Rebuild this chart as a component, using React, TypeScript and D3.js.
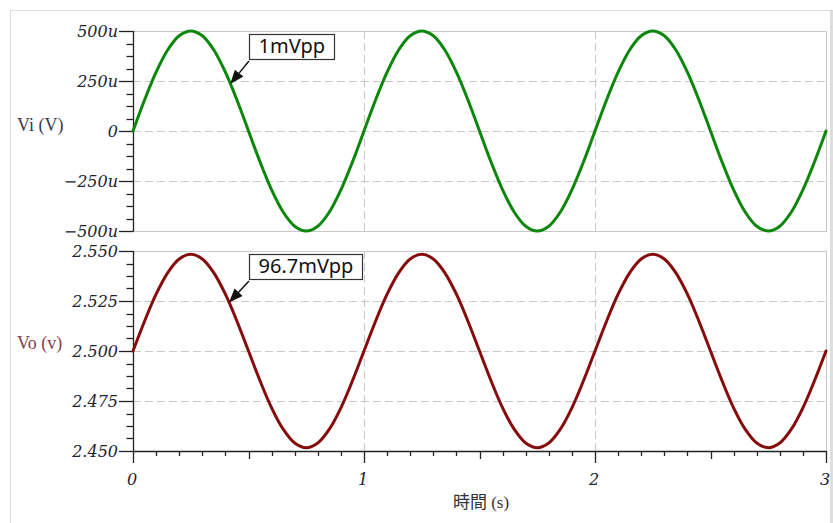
import React from "react";
import * as d3 from "d3";

// Sample times (s)
const TIME = [
  0, 0.05, 0.1, 0.15, 0.2, 0.25, 0.3, 0.35, 0.4, 0.45,
  0.5, 0.55, 0.6, 0.65, 0.7, 0.75, 0.8, 0.85, 0.9, 0.95,
  1.0, 1.05, 1.1, 1.15, 1.2, 1.25, 1.3, 1.35, 1.4, 1.45,
  1.5, 1.55, 1.6, 1.65, 1.7, 1.75, 1.8, 1.85, 1.9, 1.95,
  2.0, 2.05, 2.1, 2.15, 2.2, 2.25, 2.3, 2.35, 2.4, 2.45,
  2.5, 2.55, 2.6, 2.65, 2.7, 2.75, 2.8, 2.85, 2.9, 2.95,
  3.0,
];

// Input voltage Vi (µV)
const VI_UV = [
  0, 155, 294, 405, 476, 500, 476, 405, 294, 155,
  0, -155, -294, -405, -476, -500, -476, -405, -294, -155,
  0, 155, 294, 405, 476, 500, 476, 405, 294, 155,
  0, -155, -294, -405, -476, -500, -476, -405, -294, -155,
  0, 155, 294, 405, 476, 500, 476, 405, 294, 155,
  0, -155, -294, -405, -476, -500, -476, -405, -294, -155,
  0,
];

// Output voltage Vo (V)
const VO_V = [
  2.5, 2.5149, 2.5284, 2.5391, 2.546, 2.54835, 2.546, 2.5391, 2.5284, 2.5149,
  2.5, 2.4851, 2.4716, 2.4609, 2.454, 2.45165, 2.454, 2.4609, 2.4716, 2.4851,
  2.5, 2.5149, 2.5284, 2.5391, 2.546, 2.54835, 2.546, 2.5391, 2.5284, 2.5149,
  2.5, 2.4851, 2.4716, 2.4609, 2.454, 2.45165, 2.454, 2.4609, 2.4716, 2.4851,
  2.5, 2.5149, 2.5284, 2.5391, 2.546, 2.54835, 2.546, 2.5391, 2.5284, 2.5149,
  2.5, 2.4851, 2.4716, 2.4609, 2.454, 2.45165, 2.454, 2.4609, 2.4716, 2.4851,
  2.5,
];

// Axis ticks
const X_TICKS = [0, 1, 2, 3];
const X_TICK_LABELS = ["0", "1", "2", "3"];
const VI_TICKS = [500, 250, 0, -250, -500];
const VI_TICK_LABELS = ["500u", "250u", "0", "\u2212250u", "\u2212500u"];
const VO_TICKS = [2.55, 2.525, 2.5, 2.475, 2.45];
const VO_TICK_LABELS = ["2.550", "2.525", "2.500", "2.475", "2.450"];

// Peak-to-peak callouts: time and value the arrow points at
const VI_NOTE = { text: "1mVpp", t: 0.4167, v: 250 };
const VO_NOTE = { text: "96.7mVpp", t: 0.4136, v: 2.525 };

const W = 833;
const H = 523;
const X0 = 133;
const X1 = 826;
const TOP = { y0: 31, y1: 231 };
const BOT = { y0: 251, y1: 451 };

const GREEN = "#0c870c";
const RED = "#860c0c";
const GRID = "#c8c8c8";
const AXIS = "#222";
const TICK_FONT = "'DejaVu Serif', serif";
const NOTE_FONT = "'Noto Sans', sans-serif";

const measure = (() => {
  let ctx: CanvasRenderingContext2D | null = null;
  return (txt: string, font: string) => {
    if (!ctx) ctx = document.createElement("canvas").getContext("2d");
    if (!ctx) return txt.length * 10;
    ctx.font = font;
    return ctx.measureText(txt).width;
  };
})();

const x = d3.scaleLinear().domain([0, 3]).range([X0, X1]);
const yVi = d3.scaleLinear().domain([-500, 500]).range([TOP.y1, TOP.y0]);
const yVo = d3.scaleLinear().domain([2.45, 2.55]).range([BOT.y1, BOT.y0]);

function minorBetween(ticks: number[], parts: number) {
  const out: number[] = [];
  for (let i = 0; i < ticks.length - 1; i++) {
    const a = ticks[i];
    const b = ticks[i + 1];
    for (let k = 1; k < parts; k++) out.push(a + ((b - a) * k) / parts);
  }
  return out;
}

function Panel({
  y,
  ticks,
  labels,
  values,
  color,
}: {
  y: d3.ScaleLinear<number, number>;
  ticks: number[];
  labels: string[];
  values: number[];
  color: string;
}) {
  const [r0, r1] = y.range();
  const yTop = Math.min(r0, r1);
  const yBot = Math.max(r0, r1);
  const line = d3
    .line<number>()
    .x((_, i) => x(TIME[i]))
    .y((d) => y(d))
    .curve(d3.curveCatmullRom.alpha(0.5));
  const minors = minorBetween(ticks, 4);
  return (
    <g>
      {/* frame */}
      <rect x={X0 + 0.5} y={yTop + 0.5} width={X1 - X0} height={yBot - yTop} fill="#fff" stroke={GRID} strokeWidth={1} />
      {/* horizontal grid */}
      {ticks.slice(1, -1).map((t) => (
        <line key={"h" + t} x1={X0} x2={X1} y1={Math.round(y(t)) + 0.5} y2={Math.round(y(t)) + 0.5} stroke={GRID} strokeDasharray="8,4" />
      ))}
      {/* vertical grid */}
      {X_TICKS.slice(1, -1).map((t) => (
        <line key={"v" + t} x1={Math.round(x(t)) + 0.5} x2={Math.round(x(t)) + 0.5} y1={yTop} y2={yBot} stroke={GRID} strokeDasharray="8,4" />
      ))}
      {/* left axis */}
      <line x1={X0 + 0.5} x2={X0 + 0.5} y1={yTop} y2={yBot + 0.5} stroke={AXIS} strokeWidth={1.3} />
      {ticks.map((t) => (
        <line key={"M" + t} x1={X0 - 14} x2={X0 + 0.5} y1={Math.round(y(t)) + 0.5} y2={Math.round(y(t)) + 0.5} stroke={AXIS} strokeWidth={1.3} />
      ))}
      {minors.map((t) => (
        <line key={"m" + t} x1={X0 - 6.5} x2={X0 + 0.5} y1={Math.round(y(t)) + 0.5} y2={Math.round(y(t)) + 0.5} stroke={AXIS} strokeWidth={1.3} />
      ))}
      {ticks.map((t, i) => (
        <text
          key={"l" + t}
          x={X0 - 15}
          y={y(t) + 5.8}
          textAnchor="end"
          fontFamily={TICK_FONT}
          fontStyle="italic"
          fontSize={16}
          fill="#22222e"
        >
          {labels[i]}
        </text>
      ))}
      {/* trace */}
      <path d={line(values) || ""} fill="none" stroke={color} strokeWidth={3} strokeLinejoin="round" strokeLinecap="round" />
    </g>
  );
}

function Callout({ text, tipX, tipY, boxX, boxY }: { text: string; tipX: number; tipY: number; boxX: number; boxY: number }) {
  const font = `20px ${NOTE_FONT}`;
  const w = Math.round(measure(text, font)) + 18;
  const h = 25;
  const sx = boxX;
  const sy = boxY + h + 2;
  const ang = Math.atan2(tipY - sy, tipX - sx);
  const len = 14;
  const hw = 5.5;
  const bx = tipX - len * Math.cos(ang);
  const by = tipY - len * Math.sin(ang);
  const px = -Math.sin(ang);
  const py = Math.cos(ang);
  const head = `M${tipX},${tipY}L${bx + hw * px},${by + hw * py}L${bx - hw * px},${by - hw * py}Z`;
  return (
    <g>
      <line x1={sx} y1={sy} x2={bx} y2={by} stroke="#111" strokeWidth={1.5} />
      <path d={head} fill="#111" />
      <rect x={boxX + 0.5} y={boxY + 0.5} width={w} height={h} fill="#fff" stroke="#333" strokeWidth={1.2} />
      <text x={boxX + 9.5} y={boxY + 19} fontFamily={NOTE_FONT} fontSize={20} fill="#111">
        {text}
      </text>
    </g>
  );
}

export default function App() {
  const majorLen = 12;
  const xMinor = d3.range(1, 30).map((k) => k / 10).filter((t) => Math.abs(t - Math.round(t)) > 1e-6);
  return (
    <svg width={W} height={H} style={{ position: "absolute", left: 0, top: 0, background: "#fff" }}>
      <rect x={0} y={0} width={W} height={H} fill="#fff" />
      {/* outer frame */}
      <rect x={10.5} y={10.5} width={820} height={530} fill="none" stroke="#dedede" strokeWidth={1} />
      <line x1={832} x2={832} y1={10} y2={H} stroke="#dedede" strokeWidth={2} />

      <Panel y={yVi} ticks={VI_TICKS} labels={VI_TICK_LABELS} values={VI_UV} color={GREEN} />
      <Panel y={yVo} ticks={VO_TICKS} labels={VO_TICK_LABELS} values={VO_V} color={RED} />

      {/* time axis */}
      <line x1={X0} x2={X1 + 0.5} y1={BOT.y1 + 0.5} y2={BOT.y1 + 0.5} stroke={AXIS} strokeWidth={1.3} />
      {X_TICKS.map((t) => (
        <line key={"xM" + t} x1={Math.round(x(t)) + 0.5} x2={Math.round(x(t)) + 0.5} y1={BOT.y1} y2={BOT.y1 + majorLen} stroke={AXIS} strokeWidth={1.3} />
      ))}
      {xMinor.map((t) => {
        const half = Math.abs(t * 2 - Math.round(t * 2)) < 1e-6;
        return (
          <line key={"xm" + t} x1={Math.round(x(t)) + 0.5} x2={Math.round(x(t)) + 0.5} y1={BOT.y1} y2={BOT.y1 + (half ? 8 : 5)} stroke={AXIS} strokeWidth={1.3} />
        );
      })}
      {X_TICKS.map((t, i) => (
        <text key={"xl" + t} x={x(t) - 1} y={485} textAnchor="middle" fontFamily={TICK_FONT} fontStyle="italic" fontSize={16} fill="#22222e">
          {X_TICK_LABELS[i]}
        </text>
      ))}

      {/* axis titles */}
      <text x={17} y={130.5} fontFamily="'Liberation Serif', serif" fontSize={18} fill="#3a3a4e">
        Vi (V)
      </text>
      <text x={17} y={349} fontFamily="'Liberation Serif', serif" fontSize={18} fill="#86404e">
        Vo (v)
      </text>
      <text x={481} y={508} textAnchor="middle" fontFamily="'Liberation Serif', 'Noto Sans CJK JP', serif" fontSize={17} fill="#333">
        時間 (s)
      </text>

      {/* peak-to-peak callouts */}
      <Callout text={VI_NOTE.text} tipX={x(VI_NOTE.t) + 1} tipY={yVi(VI_NOTE.v) + 3} boxX={249} boxY={34} />
      <Callout text={VO_NOTE.text} tipX={x(VO_NOTE.t) + 0.5} tipY={yVo(VO_NOTE.v) + 1.5} boxX={249} boxY={254} />
    </svg>
  );
}
